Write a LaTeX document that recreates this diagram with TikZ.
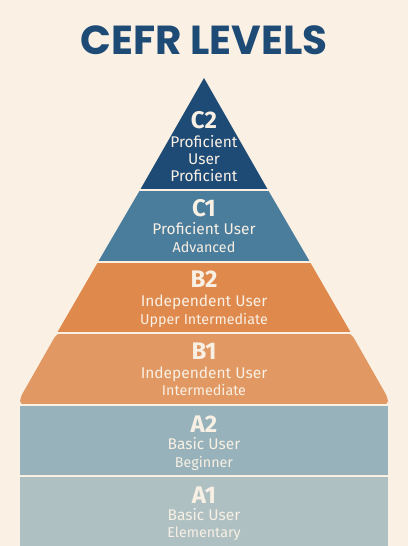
\documentclass[tikz,border=0pt]{standalone}
\usepackage{fontspec}
\setmainfont{Fira Sans}
\newfontfamily\titlefont{Poppins}
\definecolor{bg}{HTML}{FAF1E4}
\definecolor{navy}{HTML}{1E4A76}
\definecolor{cone}{HTML}{4A7C9C}
\definecolor{btwo}{HTML}{E0894D}
\definecolor{bone}{HTML}{E29862}
\definecolor{atwo}{HTML}{97B2BA}
\definecolor{aone}{HTML}{AFC0C3}
\definecolor{txt}{HTML}{F8F0E4}
\tikzset{
  code/.style={anchor=base, text=txt, font=\fontsize{24}{24}\selectfont\bfseries, inner sep=0pt},
  lineone/.style={anchor=base, text=txt, font=\fontsize{15.5}{15.5}\selectfont, inner sep=0pt},
  linetwo/.style={anchor=base, text=txt, font=\fontsize{14.3}{14.3}\selectfont, inner sep=0pt},
  sep/.style={draw=bg, line width=2.2pt}
}
\begin{document}
\begin{tikzpicture}[x=1pt,y=-1pt]
\fill[bg] (0,0) rectangle (408,546);
\useasboundingbox (0,0) rectangle (408,546);
% bands
\fill[navy] (204,78) -- (268,190) -- (140,190) -- cycle;
\fill[cone] (140,190) -- (268,190) -- (310,262) -- (98,262) -- cycle;
\fill[btwo] (98,262) -- (310,262) -- (351,333) -- (57,333) -- cycle;
\fill[bone, rounded corners=5pt] (57,333) -- (351,333) -- (388,398) -- (388,405) -- (20,405) -- (20,398) -- cycle;
\fill[atwo] (20,404) rectangle (388,476);
\fill[aone] (20,476) rectangle (388,546);
% separators
\coordinate (s1l) at (130,190); \coordinate (s1r) at (278,190);
\coordinate (s2l) at (88,262); \coordinate (s2r) at (320,262);
\coordinate (s3l) at (47,333); \coordinate (s3r) at (361,333);
\coordinate (s4l) at (10,405); \coordinate (s4r) at (398,405);
\coordinate (s5l) at (10,476); \coordinate (s5r) at (398,476);
\draw[sep] (s1l) -- (s1r);
\draw[sep] (s2l) -- (s2r);
\draw[sep] (s3l) -- (s3r);
\draw[sep] (s4l) -- (s4r);
\draw[sep] (s5l) -- (s5r);
% title
\node[anchor=base, text=navy, inner sep=0pt, font=\titlefont\fontsize{40.5}{40.5}\selectfont\bfseries] (title) at (204,54) {CEFR LEVELS};
% C2
\node[code] (c2) at (204,128) {C2};
\node[lineone] (c2a) at (204,147) {Proficient};
\node[lineone] (c2b) at (204,164) {User};
\node[lineone] (c2c) at (204,181) {Proficient};
% C1
\node[code] (c1) at (204,216) {C1};
\node[lineone] (c1a) at (204,234) {Proficient User};
\node[linetwo] (c1b) at (204,252) {Advanced};
% B2
\node[code] (b2) at (204,287) {B2};
\node[lineone] (b2a) at (204,306) {Independent User};
\node[linetwo] (b2b) at (204,324) {Upper Intermediate};
% B1
\node[code] (b1) at (204,359) {B1};
\node[lineone] (b1a) at (204,378) {Independent User};
\node[linetwo] (b1b) at (204,395) {Intermediate};
% A2
\node[code] (a2) at (204,432) {A2};
\node[lineone] (a2a) at (204,449) {Basic User};
\node[linetwo] (a2b) at (204,467) {Beginner};
% A1
\node[code] (a1) at (204,503) {A1};
\node[lineone] (a1a) at (204,520) {Basic User};
\node[linetwo] (a1b) at (204,537) {Elementary};
\end{tikzpicture}
\end{document}
